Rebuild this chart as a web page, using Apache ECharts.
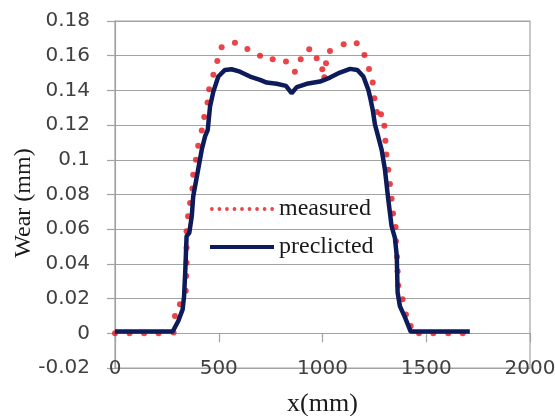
<!DOCTYPE html>
<html>
<head>
<meta charset="utf-8">
<script src="https://cdn.jsdelivr.net/npm/echarts@6/dist/echarts.min.js"></script>
<style>html,body{margin:0;padding:0;background:#fff}#c{width:555px;height:416px}</style>
</head>
<body>
<div id="c"></div>
<script>
// measured (red dots)
var measuredX = [0,70,140,210,282,289,313,341,343,345,345,345,352,362,373,377,390,401,418,430,446,454,474,493,514,578,638,699,760,824,867,895,936,972,999,1009,1017,1036,1102,1165,1202,1224,1242,1250,1262,1282,1298,1303,1308,1317,1325,1333,1340,1352,1354,1359,1362,1365,1386,1402,1425,1465,1534,1606,1676];
var measuredY = [0,0,0,0,0.0004,0.0099,0.0167,0.0245,0.033,0.0406,0.0493,0.0588,0.0675,0.0751,0.0834,0.0914,0.1001,0.1081,0.1169,0.1246,0.133,0.1407,0.149,0.157,0.1649,0.1675,0.1639,0.16,0.158,0.1566,0.1508,0.158,0.1637,0.1585,0.1522,0.1476,0.1557,0.1627,0.1666,0.1672,0.1604,0.1524,0.1445,0.1355,0.1275,0.1263,0.1196,0.111,0.103,0.0943,0.0861,0.0776,0.069,0.0613,0.0531,0.0441,0.0358,0.0276,0.0196,0.0109,0.0042,0,0,0,0];
// predicted (navy line)
var predictedX = [0,278,305,326,333,339,345,358,370,377,394,418,434,447,458,474,498,530,562,602,651,699,731,779,824,851,876,924,988,1036,1084,1133,1168,1197,1221,1232,1242,1253,1264,1285,1301,1317,1333,1349,1358,1362,1373,1398,1425,1710];
var predictedY = [0.001,0.001,0.0071,0.0138,0.0215,0.0368,0.056,0.0579,0.0675,0.079,0.0900,0.1058,0.1135,0.1173,0.1307,0.1393,0.148,0.1518,0.1522,0.1508,0.148,0.1461,0.1445,0.1438,0.1426,0.1384,0.1419,0.1438,0.1451,0.1474,0.1503,0.1524,0.1518,0.148,0.1403,0.1346,0.1288,0.1202,0.1154,0.1058,0.0943,0.0771,0.0617,0.055,0.0445,0.0234,0.0157,0.009,0.001,0.001];
var seriesNames = ['measured', 'preclicted'];
var xTicks = {min: 0, max: 2000, interval: 500};
var yTicks = {min: -0.02, max: 0.18, interval: 0.02};

function zip(a, b) { return a.map(function (v, i) { return [v, b[i]]; }); }

var dotPath = 'path://';
for (var i = 0; i < 9; i++) {
  var cx = i * 2;
  dotPath += 'M' + cx + ',0.5a0.5,0.5 0 1,0 1,0a0.5,0.5 0 1,0 -1,0z';
}

var gridGray = '#a3a3a3';
var labelColor = '#404040';
var chart = echarts.init(document.getElementById('c'), null, {renderer: 'canvas'});
chart.setOption({
  animation: false,
  backgroundColor: '#ffffff',
  grid: {left: 115, right: 25, top: 21, bottom: 48, show: true, borderColor: gridGray, borderWidth: 1.2,
         containLabel: false, outerBoundsMode: 'none'},
  legend: {
    orient: 'vertical', left: 205, top: 192, itemWidth: 64, itemHeight: 4, itemGap: 14,
    textStyle: {fontFamily: 'Liberation Serif', fontSize: 24, color: '#1a1a1a', lineHeight: 24},
    data: [
      {name: seriesNames[0], icon: dotPath},
      {name: seriesNames[1], icon: 'rect'}
    ]
  },
  xAxis: [
    {type: 'value', min: xTicks.min, max: xTicks.max, interval: xTicks.interval,
     axisLine: {show: true, onZero: true, lineStyle: {color: gridGray, width: 1.2}},
     axisTick: {show: true, length: 9, lineStyle: {color: gridGray, width: 1.2}},
     axisLabel: {show: false}, splitLine: {show: false}},
    {type: 'value', min: xTicks.min, max: xTicks.max, interval: xTicks.interval, position: 'bottom',
     axisLine: {show: false, onZero: false}, axisTick: {show: false}, splitLine: {show: false},
     axisLabel: {show: true, margin: -9, fontFamily: 'DejaVu Sans', fontSize: 20, color: labelColor,
       formatter: function (v) { return String(v); }},
     name: 'x(mm)', nameLocation: 'middle', nameGap: 23, nameMoveOverlap: false,
     nameTextStyle: {fontFamily: 'Liberation Serif', fontSize: 26, color: '#1a1a1a'}}
  ],
  yAxis: {
    type: 'value', min: yTicks.min, max: yTicks.max, interval: yTicks.interval,
    axisLine: {show: true, onZero: false, lineStyle: {color: gridGray, width: 1.2}},
    axisTick: {show: true, length: 8, lineStyle: {color: gridGray, width: 1.2}},
    splitLine: {show: true, lineStyle: {color: gridGray, width: 1.2}},
    axisLabel: {margin: 25, fontFamily: 'DejaVu Sans', fontSize: 20, color: labelColor,
      formatter: function (v) { return String(Math.round(v * 100) / 100); }},
    name: 'Wear (mm)', nameLocation: 'middle', nameGap: 79, nameMoveOverlap: false,
    nameTextStyle: {fontFamily: 'Liberation Serif', fontSize: 24, color: '#1a1a1a', padding: [0, 17, 0, 0]}
  },
  series: [
    {name: seriesNames[0], type: 'scatter', xAxisIndex: 0, data: zip(measuredX, measuredY),
     symbol: 'circle', symbolSize: 6, itemStyle: {color: '#e4161c'}},
    {name: seriesNames[1], type: 'line', xAxisIndex: 0, data: zip(predictedX, predictedY),
     showSymbol: false, symbol: 'none', lineStyle: {color: '#0e1b5a', width: 4.5}, itemStyle: {color: '#0e1b5a'}}
  ]
});
</script>
</body>
</html>
